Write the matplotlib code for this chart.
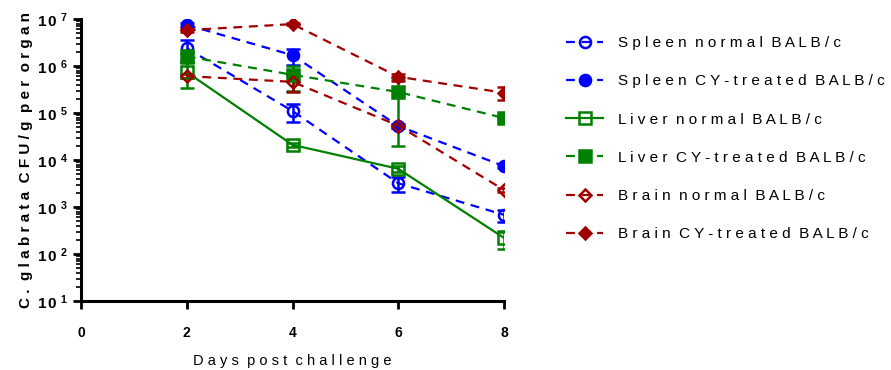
import matplotlib.pyplot as plt
import numpy as np
import matplotlib.ticker as ticker
from matplotlib.lines import Line2D

plt.rcParams['font.family'] = ['Liberation Sans', 'DejaVu Sans']
plt.rcParams['mathtext.fontset'] = 'custom'
plt.rcParams['mathtext.rm'] = 'Liberation Sans'
plt.rcParams['mathtext.bf'] = 'Liberation Sans:bold'

# ===== Data =====
days = [2, 4, 6, 8]

spleen_normal = [2.4e6, 1.1e5, 3.2e3, 6.8e2]
spleen_normal_sem = [1.2e6, 4.5e4, 1.1e3, 2.0e2]
spleen_cy = [7.5e6, 1.7e6, 5.3e4, 7.4e3]
spleen_cy_sem = [8.0e5, 6.5e5, 5.0e3, 5.0e2]
liver_normal = [7.4e5, 2.1e4, 6.5e3, 2.2e2]
liver_normal_sem = [4.0e5, 2.0e3, 1.0e3, 9.0e1]
liver_cy = [1.6e6, 6.5e5, 2.8e5, 7.8e4]
liver_cy_sem = [3.0e5, 3.5e5, 2.6e5, 5.0e3]
brain_normal = [6.1e5, 4.6e5, 5.4e4, 2.3e3]
brain_normal_sem = [5.0e4, 1.8e5, 5.0e3, 2.0e2]
brain_cy = [5.8e6, 7.8e6, 5.9e5, 2.7e5]
brain_cy_sem = [5.0e5, 3.0e5, 1.0e5, 8.0e4]

labels = ["Spleen normal BALB/c", "Spleen CY-treated BALB/c",
          "Liver normal BALB/c", "Liver CY-treated BALB/c",
          "Brain normal BALB/c", "Brain CY-treated BALB/c"]


def spaced(s):
    # letter-spaced look of the original export
    return "  ".join(" ".join(w) for w in s.split(" "))


blue = "#0000FF"
green = "#008000"
red = "#A00000"
dash = (0, (4, 3))

series = [
    (spleen_normal, spleen_normal_sem, blue, 'o', 'none', dash),
    (spleen_cy, spleen_cy_sem, blue, 'o', blue, dash),
    (liver_normal, liver_normal_sem, green, 's', 'none', '-'),
    (liver_cy, liver_cy_sem, green, 's', green, dash),
    (brain_normal, brain_normal_sem, red, 'D', 'none', dash),
    (brain_cy, brain_cy_sem, red, 'D', red, dash),
]

fig = plt.figure(figsize=(8.91, 3.70), dpi=100)
ax = fig.add_axes([0.0909, 0.1865, 0.4748, 0.7621])

handles = []
for (vals, sem, col, mk, fc, ls), lab in zip(series, labels):
    ms = 6.5 if mk == 'D' else 8
    ax.errorbar(days, vals, yerr=sem, color=col, marker=mk, markersize=ms,
                markerfacecolor=fc, markeredgecolor=col, markeredgewidth=1.8,
                linestyle=ls, linewidth=1.6, capsize=5, capthick=1.8,
                elinewidth=1.8)
    handles.append(Line2D([], [], color=col, marker=mk, markersize=ms,
                          markerfacecolor=fc, markeredgecolor=col,
                          markeredgewidth=1.8, linestyle=ls, linewidth=1.6,
                          label=spaced(lab)))

ax.set_yscale('log')
ax.set_ylim(1e1, 1e7)
ax.set_xlim(0, 8)
ax.set_xticks([0, 2, 4, 6, 8])
ax.yaxis.set_major_locator(ticker.LogLocator(base=10, numticks=10))
ax.yaxis.set_minor_locator(ticker.LogLocator(base=10, subs=np.arange(2, 10), numticks=100))
ax.yaxis.set_major_formatter(ticker.FuncFormatter(
    lambda v, p: r'$\mathbf{1\,0\;^{%d}}$' % int(round(np.log10(v)))))
ax.yaxis.set_minor_formatter(ticker.NullFormatter())

for lab in ax.get_xticklabels():
    lab.set_fontweight('bold')
ax.tick_params(axis='x', which='major', labelsize=10, width=2, length=6,
               direction='out', pad=12)
ax.tick_params(axis='y', which='major', labelsize=11, width=2, length=6,
               direction='out', pad=3)
ax.tick_params(axis='y', which='minor', width=1.2, length=3.5, direction='out')

ax.spines['top'].set_visible(False)
ax.spines['right'].set_visible(False)
ax.spines['left'].set_linewidth(2.2)
ax.spines['bottom'].set_linewidth(2.2)

ax.set_xlabel(spaced("Days post challenge"), fontsize=10.5, labelpad=10)
ax.set_ylabel(spaced("C. glabrata CFU/g per organ"), fontsize=11,
              fontweight='bold', labelpad=3)

leg = fig.legend(handles=handles, loc='upper left', bbox_to_anchor=(0.62, 0.94),
                 frameon=False, fontsize=11, labelspacing=1.59,
                 handlelength=2.4, handletextpad=1.0)

fig.savefig("out.png", dpi=100)
